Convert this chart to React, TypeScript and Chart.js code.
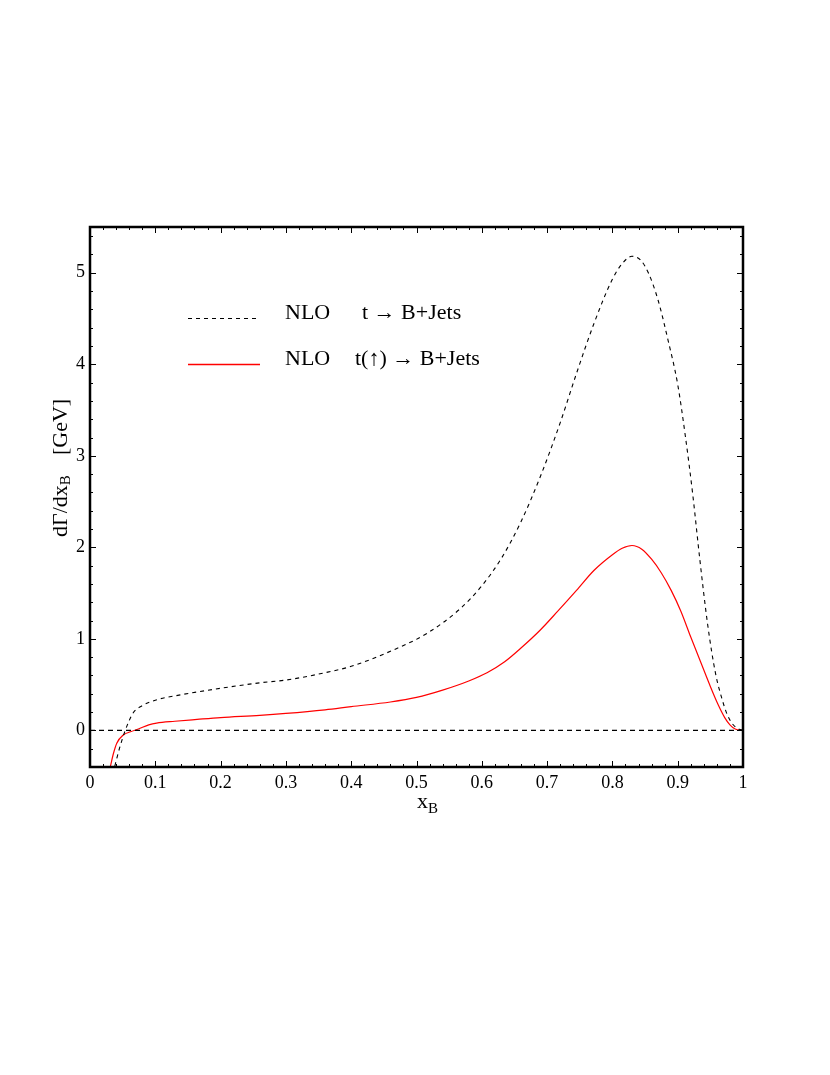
import React, { useEffect, useRef } from "react";
import { Chart, registerables } from "chart.js";

Chart.register(...registerables);

// Axis ticks
const xTickValues = [0, 0.1, 0.2, 0.3, 0.4, 0.5, 0.6, 0.7, 0.8, 0.9, 1];
const xTickLabels = ["0", "0.1", "0.2", "0.3", "0.4", "0.5", "0.6", "0.7", "0.8", "0.9", "1"];
const yTickValues = [0, 1, 2, 3, 4, 5];
const yTickLabels = ["0", "1", "2", "3", "4", "5"];

// NLO t -> B+Jets (black dashed)
const unpolX = [0.038, 0.045, 0.054, 0.066, 0.08, 0.1, 0.14, 0.2, 0.26, 0.3, 0.36, 0.4, 0.465, 0.516, 0.567, 0.6, 0.63, 0.66, 0.69, 0.72, 0.745, 0.772, 0.8, 0.815, 0.83, 0.843, 0.855, 0.87, 0.885, 0.9, 0.912, 0.923, 0.934, 0.946, 0.958, 0.968, 0.976, 0.984, 0.992, 1.0];
const unpolY = [-0.39, -0.2, 0.0, 0.19, 0.27, 0.33, 0.39, 0.46, 0.52, 0.55, 0.63, 0.7, 0.88, 1.06, 1.33, 1.58, 1.88, 2.28, 2.78, 3.36, 3.9, 4.45, 4.93, 5.1, 5.18, 5.14, 5.0, 4.7, 4.27, 3.78, 3.2, 2.58, 1.86, 1.15, 0.62, 0.34, 0.17, 0.07, 0.02, 0.0];

// NLO t(up) -> B+Jets (red solid)
const polX = [0.031, 0.036, 0.041, 0.051, 0.062, 0.074, 0.09, 0.102, 0.13, 0.164, 0.2, 0.26, 0.3, 0.36, 0.4, 0.46, 0.5, 0.54, 0.58, 0.608, 0.635, 0.66, 0.69, 0.716, 0.745, 0.772, 0.8, 0.815, 0.83, 0.845, 0.86, 0.875, 0.89, 0.905, 0.92, 0.935, 0.95, 0.962, 0.972, 0.98, 0.988, 1.0];
const polY = [-0.4, -0.25, -0.14, -0.05, -0.015, 0.015, 0.06, 0.08, 0.1, 0.12, 0.14, 0.164, 0.185, 0.225, 0.26, 0.31, 0.36, 0.44, 0.54, 0.63, 0.75, 0.9, 1.1, 1.3, 1.53, 1.75, 1.92, 1.99, 2.02, 1.98, 1.87, 1.72, 1.53, 1.3, 1.02, 0.75, 0.48, 0.28, 0.14, 0.06, 0.015, 0.0];

// Zero reference line
const zeroX = [0, 1];
const zeroY = [0, 0];

const FONT = "'Liberation Serif', 'DejaVu Serif', serif";

const zip = (xs: number[], ys: number[]) => xs.map((x, i) => ({ x, y: ys[i] }));

const framePlugin = {
  id: "framePlugin",
  afterDraw(chart: any) {
    const { ctx, chartArea: a } = chart;
    const xs = chart.scales.x;
    const ys = chart.scales.y;
    ctx.save();
    // inside ticks on all sides
    ctx.strokeStyle = "#000";
    ctx.lineWidth = 1;
    for (let i = 0; i <= 50; i++) {
      const px = Math.round(xs.getPixelForValue(i / 50)) + 0.5;
      const len = i % 5 === 0 ? 6 : 3;
      ctx.beginPath();
      ctx.moveTo(px, a.bottom);
      ctx.lineTo(px, a.bottom - len);
      ctx.moveTo(px, a.top);
      ctx.lineTo(px, a.top + len);
      ctx.stroke();
    }
    for (let i = -2; i <= 27; i++) {
      const py = Math.round(ys.getPixelForValue(i * 0.2)) + 0.5;
      const len = i % 5 === 0 ? 6 : 3;
      ctx.beginPath();
      ctx.moveTo(a.left, py);
      ctx.lineTo(a.left + len, py);
      ctx.moveTo(a.right, py);
      ctx.lineTo(a.right - len, py);
      ctx.stroke();
    }
    // frame
    ctx.lineWidth = 2.5;
    ctx.strokeRect(a.left, a.top, a.right - a.left, a.bottom - a.top);

    // legend
    const lx0 = a.left + 98;
    const lx1 = a.left + 169;
    const ly1 = a.top + 91;
    const ly2 = a.top + 137;
    ctx.lineWidth = 1;
    ctx.setLineDash([4, 4]);
    ctx.strokeStyle = "#000";
    ctx.beginPath();
    ctx.moveTo(lx0, ly1 + 0.5);
    ctx.lineTo(lx1, ly1 + 0.5);
    ctx.stroke();
    ctx.setLineDash([]);
    ctx.strokeStyle = "#ff0000";
    ctx.lineWidth = 1.3;
    ctx.beginPath();
    ctx.moveTo(lx0, ly2 + 0.5);
    ctx.lineTo(lx1 + 1, ly2 + 0.5);
    ctx.stroke();

    ctx.fillStyle = "#000";
    ctx.font = `22px ${FONT}`;
    ctx.textAlign = "left";
    ctx.textBaseline = "alphabetic";
    ctx.fillText("NLO", a.left + 195, ly1 + 1);
    ctx.fillText("t \u2192 B+Jets", a.left + 272, ly1 + 1);
    ctx.fillText("NLO", a.left + 195, ly2 + 1);
    ctx.fillText("t(\u2191) \u2192 B+Jets", a.left + 265, ly2 + 1);

    // x axis title
    ctx.font = `22px ${FONT}`;
    ctx.fillText("x", 417, a.bottom + 41);
    const wx = ctx.measureText("x").width;
    ctx.font = `15px ${FONT}`;
    ctx.fillText("B", 417 + wx, a.bottom + 46);

    // y axis title (rotated)
    ctx.save();
    ctx.translate(67, 537);
    ctx.rotate(-Math.PI / 2);
    ctx.font = `22px ${FONT}`;
    ctx.fillText("d\u0393/dx", 0, 0);
    const w1 = ctx.measureText("d\u0393/dx").width;
    ctx.font = `15px ${FONT}`;
    ctx.fillText("B", w1, 3);
    ctx.font = `22px ${FONT}`;
    ctx.fillText("[GeV]", 82, 0);
    ctx.restore();

    ctx.restore();
  },
};

export default function App() {
  const canvasRef = useRef<HTMLCanvasElement | null>(null);

  useEffect(() => {
    if (!canvasRef.current) return;
    const chart = new Chart(canvasRef.current, {
      type: "line",
      data: {
        datasets: [
          {
            data: zip(zeroX, zeroY),
            borderColor: "#000",
            borderWidth: 1.2,
            borderDash: [5, 4],
            pointRadius: 0,
            tension: 0,
          },
          {
            data: zip(unpolX, unpolY),
            borderColor: "#000",
            borderWidth: 1.1,
            borderDash: [4, 4],
            pointRadius: 0,
            cubicInterpolationMode: "monotone",
          },
          {
            data: zip(polX, polY),
            borderColor: "#ff0000",
            borderWidth: 1.2,
            pointRadius: 0,
            cubicInterpolationMode: "monotone",
          },
        ],
      },
      options: {
        animation: false,
        responsive: false,
        devicePixelRatio: 1,
        layout: { padding: { top: 227, right: 87, left: 0, bottom: 0 } },
        plugins: {
          legend: { display: false },
          tooltip: { enabled: false },
        },
        scales: {
          x: {
            type: "linear",
            min: 0,
            max: 1,
            grid: { display: false, drawTicks: false },
            border: { display: false },
            afterBuildTicks: (s: any) => {
              s.ticks = xTickValues.map((v) => ({ value: v }));
            },
            afterFit: (s: any) => {
              s.height = 308;
            },
            ticks: {
              autoSkip: false,
              maxRotation: 0,
              padding: 5,
              color: "#000",
              font: { family: FONT, size: 18 },
              callback: (_v: any, i: number) => xTickLabels[i],
            },
          },
          y: {
            type: "linear",
            min: -0.4,
            max: 5.5,
            grid: { display: false, drawTicks: false },
            border: { display: false },
            afterBuildTicks: (s: any) => {
              s.ticks = yTickValues.map((v) => ({ value: v }));
            },
            afterFit: (s: any) => {
              s.width = 90;
            },
            ticks: {
              autoSkip: false,
              padding: 5,
              color: "#000",
              font: { family: FONT, size: 18 },
              callback: (_v: any, i: number) => yTickLabels[i],
            },
          },
        },
      } as any,
      plugins: [framePlugin],
    });
    return () => chart.destroy();
  }, []);

  return (
    <div style={{ position: "absolute", left: 0, top: 0, width: 830, height: 1075, background: "#fff" }}>
      <canvas ref={canvasRef} width={830} height={1075} />
    </div>
  );
}
